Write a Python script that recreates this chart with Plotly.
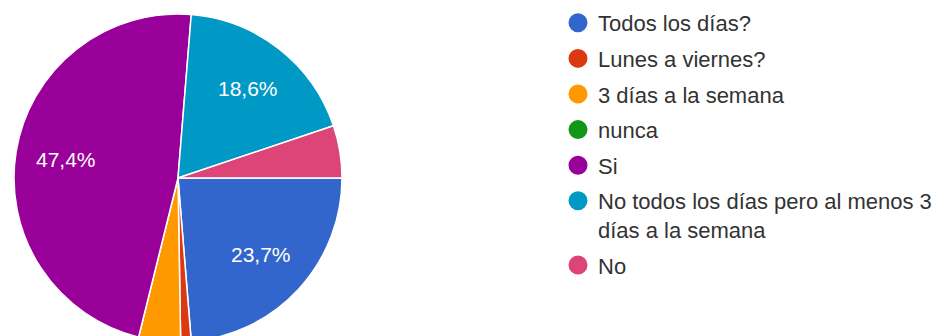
import math
import plotly.graph_objects as go

# Survey answers (counts) in the order the slices are drawn, clockwise from 3 o'clock
labels = [
    "Todos los días?",
    "Lunes a viernes?",
    "3 días a la semana",
    "nunca",
    "Si",
    "No todos los días pero al menos 3<br>días a la semana",
    "No",
]
counts = [23, 1, 4, 0, 46, 18, 5]
colors = ["#3366cc", "#dc3912", "#ff9900", "#109618", "#990099", "#0099c6", "#dd4477"]

W, H = 933, 356          # figure is slightly taller than the window; the pie bottom is clipped
CX, CY, R = 178, 178, 164
START_DEG = 90           # first slice starts at 3 o'clock
LABEL_R = 0.69           # percentage labels sit at this fraction of the radius

total = sum(counts)

fig = go.Figure()
fig.add_trace(go.Pie(
    labels=labels,
    values=counts,
    textinfo="none",
    marker=dict(colors=colors, line=dict(color="white", width=1.5)),
    sort=False,
    direction="clockwise",
    rotation=START_DEG,
    showlegend=False,
    hoverinfo="label+percent",
    domain=dict(x=[(CX - R) / W, (CX + R) / W],
                y=[(H - CY - R) / H, (H - CY + R) / H]),
))

# percentage labels (decimal comma) at the middle angle of each large slice
cum = 0
for c in counts:
    share = c / total
    mid = math.radians(START_DEG + (cum + c / 2) / total * 360)
    cum += c
    if share < 0.1:
        continue
    px = CX + LABEL_R * R * math.sin(mid)
    py = CY - LABEL_R * R * math.cos(mid)
    fig.add_annotation(
        x=px / W, y=(H - py) / H, xref="paper", yref="paper",
        text=f"{share * 100:.1f}%".replace(".", ","),
        showarrow=False, xanchor="center", yanchor="middle",
        font=dict(family="Arial", size=21, color="white"),
    )

# circular legend swatches
for i, (lab, col) in enumerate(zip(labels, colors)):
    fig.add_trace(go.Scatter(
        x=[None], y=[None], mode="markers", name=lab,
        marker=dict(symbol="circle", size=16, color=col,
                    line=dict(color=col, width=3)),
        legendgroup=f"g{i}", showlegend=True,
    ))

fig.update_layout(
    width=W, height=H,
    margin=dict(l=0, r=0, t=0, b=0, autoexpand=False),
    paper_bgcolor="white", plot_bgcolor="white",
    xaxis=dict(visible=False), yaxis=dict(visible=False),
    legend=dict(
        x=558 / W, y=1 - 2 / H, xanchor="left", yanchor="top",
        font=dict(family="Arial", size=22, color="#333333"),
        tracegroupgap=4, itemsizing="trace", valign="top",
        bgcolor="rgba(0,0,0,0)",
    ),
)

fig.write_html("out.html",
               post_script="document.body.style.overflow='hidden';document.body.style.margin='0';")
